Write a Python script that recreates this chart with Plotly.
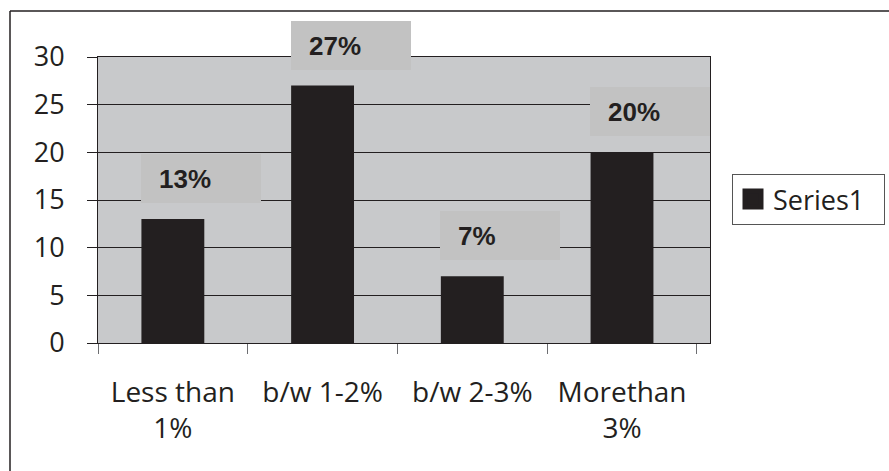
import plotly.graph_objects as go

categories = ["Less than<br>1%", "b/w 1-2%", "b/w 2-3%", "Morethan<br>3%"]
values = [13, 27, 7, 20]
pct_labels = ["13%", "27%", "7%", "20%"]
series_name = "Series1"
y_ticks = [0, 5, 10, 15, 20, 25, 30]

DARK = "#231f20"
PLOT_BG = "#c8c9cb"
BOX_BG = "#c2c2c2"

fig = go.Figure()
fig.add_trace(go.Bar(
    x=categories, y=values, marker=dict(color=DARK, line=dict(width=0)),
    showlegend=False, name=series_name,
))
# legend entry (square swatch)
fig.add_trace(go.Scatter(
    x=[None], y=[None], mode="markers", name=series_name + "\u00a0" * 2,
    marker=dict(symbol="square", size=16, color=DARK, line=dict(color=DARK, width=5)),
))

for c, v, t in zip(categories, values, pct_labels):
    fig.add_annotation(
        x=c, y=v, xref="x", yref="y",
        text="\u2002<b>" + t + "</b>", showarrow=False,
        xanchor="center", yanchor="bottom", xshift=28, yshift=16,
        width=110, height=39, align="left", valign="middle",
        bgcolor=BOX_BG, borderpad=5, borderwidth=0,
        font=dict(family="Liberation Sans, Arial, sans-serif", size=26, color=DARK),
    )

# outer frame (top and left edges)
W, H = 889, 471
L, R, T, B = 98, 179, 57, 128
pw, ph = W - L - R, H - T - B
def px(xp):
    return (xp - L) / pw
def py(yp):
    return (H - B - yp) / ph
fig.add_shape(type="line", xref="paper", yref="paper",
              x0=px(10), x1=px(W), y0=py(11), y1=py(11),
              line=dict(color=DARK, width=1.5))
fig.add_shape(type="line", xref="paper", yref="paper",
              x0=px(10), x1=px(10), y0=py(11), y1=py(H),
              line=dict(color=DARK, width=1.5))

fig.update_layout(
    width=W, height=H,
    margin=dict(l=L, r=R, t=T, b=B, pad=0, autoexpand=False),
    paper_bgcolor="white", plot_bgcolor=PLOT_BG,
    bargap=0.58,
    font=dict(family="Open Sans, Noto Sans, sans-serif", size=27, color=DARK),
    legend=dict(
        x=px(732), y=py(174), xanchor="left", yanchor="top",
        bgcolor="white", bordercolor="#555555", borderwidth=1,
        font=dict(size=27, color=DARK), itemsizing="trace",
    ),
)
fig.update_xaxes(
    type="category", tickson="boundaries", ticks="outside", ticklen=10,
    tickcolor="#6d6e71", showline=True, linecolor=DARK, linewidth=1,
    mirror=True, showgrid=False, ticklabelstandoff=24,
    tickfont=dict(size=28, color=DARK),
)
fig.update_yaxes(
    range=[0, 30], tickvals=y_ticks, ticks="outside", ticklen=10,
    tickcolor=DARK, showline=True, linecolor=DARK, linewidth=1, mirror=True,
    showgrid=True, gridcolor=DARK, gridwidth=1, zeroline=False,
    ticklabelstandoff=17, tickfont=dict(size=27, color=DARK),
)

fig.write_html("out.html")
